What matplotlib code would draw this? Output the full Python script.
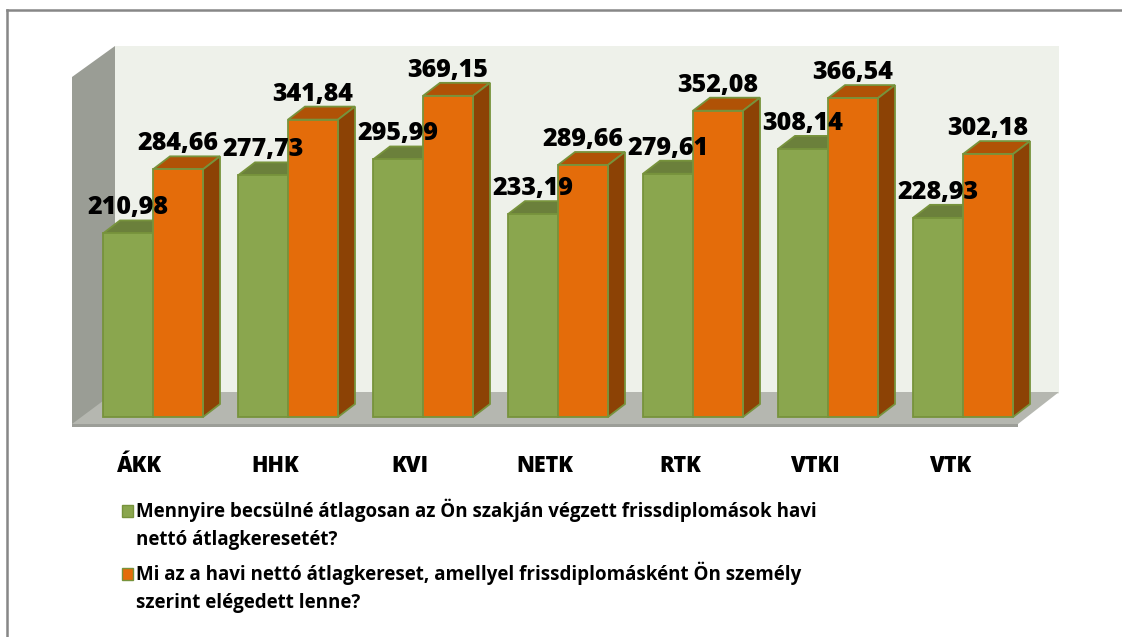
import matplotlib.pyplot as plt
from matplotlib.patches import Polygon, Rectangle
from matplotlib.lines import Line2D
from numpy import arange

# --- DATA
categories = ['ÁKK', 'HHK', 'KVI', 'NETK', 'RTK', 'VTKI', 'VTK']
becsult = [210.98, 277.73, 295.99, 233.19, 279.61, 308.14, 228.93]
elvart = [284.66, 341.84, 369.15, 289.66, 352.08, 366.54, 302.18]
legend_labels = [
    'Mennyire becsülné átlagosan az Ön szakján végzett frissdiplomások havi\nnettó átlagkeresetét?',
    'Mi az a havi nettó átlagkereset, amellyel frissdiplomásként Ön személy\nszerint elégedett lenne?',
]

# --- STYLE
W, H = 1122, 637
FONT = 'Open Sans'
GREEN = {'front': '#8aa64e', 'top': '#6b803b', 'side': '#5d7033'}
ORANGE = {'front': '#e46c0a', 'top': '#b05206', 'side': '#8c4205'}
EDGE = '#77933c'

# pixel geometry of the front faces
PX_ZERO = 417.0     # pixel row of value 0
PX_UNIT = 0.87      # pixels per value unit
PX_CAT = 135.0      # pixels between categories
PX_CAT0 = 153.0     # pixel column of first category centre
BAR_W = 50.0 / PX_CAT
DEPTH_X = 17.0 / PX_CAT
DEPTH_Y = 13.0 / PX_UNIT


def px_x(px):
    return (px - PX_CAT0) / PX_CAT


def px_y(py):
    return (PX_ZERO - py) / PX_UNIT


def fig_xy(px, py):
    return px / W, 1 - py / H


def draw_box(ax, x, h, colors, z):
    x0, x1 = x - BAR_W / 2, x + BAR_W / 2
    ax.bar(x, h, BAR_W, color=colors['front'], edgecolor=EDGE, linewidth=1.3, zorder=z + 0.2)
    top = [(x0, h), (x0 + DEPTH_X, h + DEPTH_Y), (x1 + DEPTH_X, h + DEPTH_Y), (x1, h)]
    side = [(x1, 0), (x1 + DEPTH_X, DEPTH_Y), (x1 + DEPTH_X, h + DEPTH_Y), (x1, h)]
    ax.add_patch(Polygon(top, closed=True, facecolor=colors['top'], edgecolor=EDGE, lw=1.3, zorder=z))
    ax.add_patch(Polygon(side, closed=True, facecolor=colors['side'], edgecolor=EDGE, lw=1.3, zorder=z))


def fmt(v):
    return ('%.2f' % v).replace('.', ',')


def main():
    fig = plt.figure(figsize=(W / 100.0, H / 100.0), dpi=100)
    ax = fig.add_axes([0, 0, 1, 1])
    ax.set_xlim(px_x(0), px_x(W))
    ax.set_ylim(px_y(H), px_y(0))
    ax.axis('off')

    # walls and floor
    back = [(px_x(115), px_y(46)), (px_x(1059), px_y(46)), (px_x(1059), px_y(394)), (px_x(115), px_y(394))]
    left = [(px_x(72), px_y(77)), (px_x(115), px_y(46)), (px_x(115), px_y(394)), (px_x(72), px_y(427))]
    floor = [(px_x(72), px_y(424)), (px_x(115), px_y(392)), (px_x(1059), px_y(392)), (px_x(1018), px_y(424))]
    floor_edge = [(px_x(72), px_y(424)), (px_x(1018), px_y(424)), (px_x(1018), px_y(427)), (px_x(72), px_y(427))]
    ax.add_patch(Polygon(back, closed=True, facecolor='#eef1ea', edgecolor='none', zorder=1))
    ax.add_patch(Polygon(left, closed=True, facecolor='#9a9d95', edgecolor='none', zorder=1))
    ax.add_patch(Polygon(floor, closed=True, facecolor='#b5b7b0', edgecolor='none', zorder=1.5))
    ax.add_patch(Polygon(floor_edge, closed=True, facecolor='#9c9e98', edgecolor='none', zorder=1.5))

    x = arange(len(categories))
    for i in x:
        z = 2 + i
        draw_box(ax, i - BAR_W / 2, becsult[i], GREEN, z)
        draw_box(ax, i + BAR_W / 2, elvart[i], ORANGE, z + 0.5)
        for xx, v in [(i - BAR_W / 2, becsult[i]), (i + BAR_W / 2, elvart[i])]:
            ax.text(xx, v + DEPTH_Y + 6 / PX_UNIT, fmt(v), ha='center', va='baseline',
                    fontsize=18, fontweight='heavy', family=FONT, zorder=20)
        ax.text(i - 13 / PX_CAT, px_y(472), categories[i], ha='center', va='baseline',
                fontsize=15.5, fontweight='heavy', family=FONT)

    # legend
    for (label, colors, py) in zip(legend_labels, [GREEN, ORANGE], [517, 580]):
        ax.add_patch(Rectangle((px_x(122), px_y(py)), 11 / PX_CAT, 12 / PX_UNIT,
                               facecolor=colors['front'], edgecolor=EDGE, lw=1.0))
        lines = label.split('\n')
        for k, line in enumerate(lines):
            fig.text(*fig_xy(136, py + 28 * k), line, ha='left', va='baseline',
                     fontsize=13.5, fontweight='bold', family=FONT)

    # chart border (cropped at right and bottom)
    fig.add_artist(Line2D([6.5 / W, 1], [1 - 9.5 / H, 1 - 9.5 / H], color='#878787', lw=1.8))
    fig.add_artist(Line2D([6.5 / W, 6.5 / W], [0, 1 - 9.5 / H], color='#878787', lw=1.8))

    fig.savefig('out.png', dpi=100)


if __name__ == '__main__':
    main()
